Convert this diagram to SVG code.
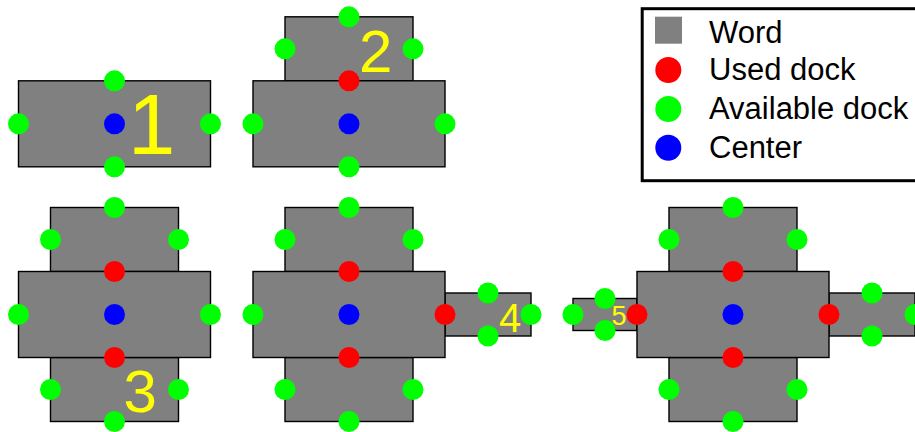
<svg xmlns="http://www.w3.org/2000/svg" width="915" height="432" viewBox="0 0 915 432">
<style>
.w{fill:#808080;stroke:#000;stroke-width:1.4}
.u{fill:#ff0000}
.a{fill:#00ff00}
.c{fill:#0000ff}
.n{fill:#ffff00;font-family:"Liberation Sans",Arial,sans-serif}
.l{fill:#000;font-family:"Liberation Sans",Arial,sans-serif;font-size:31px}
</style>
<rect width="915" height="432" fill="#fff"/>
<g id="step1">
<rect class="w" x="18.5" y="80.8" width="192" height="86"/>
<circle class="a" cx="114.5" cy="80.8" r="10.5"/>
<circle class="a" cx="114.5" cy="166.8" r="10.5"/>
<circle class="a" cx="18.5" cy="123.8" r="10.5"/>
<circle class="a" cx="210.5" cy="123.8" r="10.5"/>
<circle class="c" cx="114.5" cy="123.8" r="10.5"/>
<text class="n" x="128" y="153.5" font-size="85">1</text>
</g>
<g id="step2">
<rect class="w" x="285" y="16.8" width="128" height="64"/>
<rect class="w" x="253" y="80.8" width="192" height="86"/>
<circle class="a" cx="349" cy="16.8" r="10.5"/>
<circle class="a" cx="285" cy="48.8" r="10.5"/>
<circle class="a" cx="413" cy="48.8" r="10.5"/>
<circle class="u" cx="349" cy="80.8" r="10.5"/>
<circle class="a" cx="253" cy="123.8" r="10.5"/>
<circle class="a" cx="445" cy="123.8" r="10.5"/>
<circle class="a" cx="349" cy="166.8" r="10.5"/>
<circle class="c" cx="349" cy="123.8" r="10.5"/>
<text class="n" x="359" y="72" font-size="60">2</text>
</g>
<g id="step3">
<rect class="w" x="50.5" y="207.5" width="128" height="64"/>
<rect class="w" x="50.5" y="357.5" width="128" height="64"/>
<rect class="w" x="18.5" y="271.5" width="192" height="86"/>
<circle class="a" cx="114.5" cy="207.5" r="10.5"/>
<circle class="a" cx="50.5" cy="239.5" r="10.5"/>
<circle class="a" cx="178.5" cy="239.5" r="10.5"/>
<circle class="u" cx="114.5" cy="271.5" r="10.5"/>
<circle class="a" cx="18.5" cy="314.5" r="10.5"/>
<circle class="a" cx="210.5" cy="314.5" r="10.5"/>
<circle class="c" cx="114.5" cy="314.5" r="10.5"/>
<circle class="u" cx="114.5" cy="357.5" r="10.5"/>
<circle class="a" cx="50.5" cy="389.5" r="10.5"/>
<circle class="a" cx="178.5" cy="389.5" r="10.5"/>
<circle class="a" cx="114.5" cy="421.5" r="10.5"/>
<text class="n" x="123.5" y="412" font-size="60">3</text>
</g>
<g id="step4">
<rect class="w" x="285" y="207.5" width="128" height="64"/>
<rect class="w" x="285" y="357.5" width="128" height="64"/>
<rect class="w" x="445" y="293" width="86" height="43"/>
<rect class="w" x="253" y="271.5" width="192" height="86"/>
<circle class="a" cx="349" cy="207.5" r="10.5"/>
<circle class="a" cx="285" cy="239.5" r="10.5"/>
<circle class="a" cx="413" cy="239.5" r="10.5"/>
<circle class="u" cx="349" cy="271.5" r="10.5"/>
<circle class="a" cx="253" cy="314.5" r="10.5"/>
<circle class="u" cx="445" cy="314.5" r="10.5"/>
<circle class="c" cx="349" cy="314.5" r="10.5"/>
<circle class="u" cx="349" cy="357.5" r="10.5"/>
<circle class="a" cx="285" cy="389.5" r="10.5"/>
<circle class="a" cx="413" cy="389.5" r="10.5"/>
<circle class="a" cx="349" cy="421.5" r="10.5"/>
<circle class="a" cx="488" cy="293" r="10.5"/>
<circle class="a" cx="488" cy="336" r="10.5"/>
<text class="n" x="499" y="332" font-size="40">4</text>
<circle class="a" cx="531" cy="314.5" r="10.5"/>
</g>
<g id="step5">
<rect class="w" x="669" y="207.5" width="128" height="64"/>
<rect class="w" x="669" y="357.5" width="128" height="64"/>
<rect class="w" x="829" y="293" width="86" height="43"/>
<rect class="w" x="573" y="298.5" width="64" height="32"/>
<rect class="w" x="637" y="271.5" width="192" height="86"/>
<circle class="a" cx="733" cy="207.5" r="10.5"/>
<circle class="a" cx="669" cy="239.5" r="10.5"/>
<circle class="a" cx="797" cy="239.5" r="10.5"/>
<circle class="u" cx="733" cy="271.5" r="10.5"/>
<circle class="u" cx="637" cy="314.5" r="10.5"/>
<circle class="u" cx="829" cy="314.5" r="10.5"/>
<circle class="c" cx="733" cy="314.5" r="10.5"/>
<circle class="u" cx="733" cy="357.5" r="10.5"/>
<circle class="a" cx="669" cy="389.5" r="10.5"/>
<circle class="a" cx="797" cy="389.5" r="10.5"/>
<circle class="a" cx="733" cy="421.5" r="10.5"/>
<circle class="a" cx="872" cy="293" r="10.5"/>
<circle class="a" cx="872" cy="336" r="10.5"/>
<circle class="a" cx="915" cy="314.5" r="10.5"/>
<circle class="a" cx="573" cy="314.5" r="10.5"/>
<circle class="a" cx="605" cy="298.5" r="10.5"/>
<circle class="a" cx="605" cy="330.5" r="10.5"/>
<text class="n" x="611.5" y="324.5" font-size="27">5</text>
</g>
<g id="legend">
<rect x="642.2" y="8.7" width="300" height="172" fill="#fff" stroke="#000" stroke-width="3"/>
<rect x="655" y="16.7" width="27" height="27" fill="#808080"/>
<circle class="u" cx="668.3" cy="70" r="13"/>
<circle class="a" cx="668.3" cy="109" r="13"/>
<circle class="c" cx="668.3" cy="147.7" r="13"/>
<text class="l" x="709" y="43.3">Word</text>
<text class="l" x="709" y="80">Used dock</text>
<text class="l" x="709" y="119">Available dock</text>
<text class="l" x="709" y="158">Center</text>
</g>
</svg>
